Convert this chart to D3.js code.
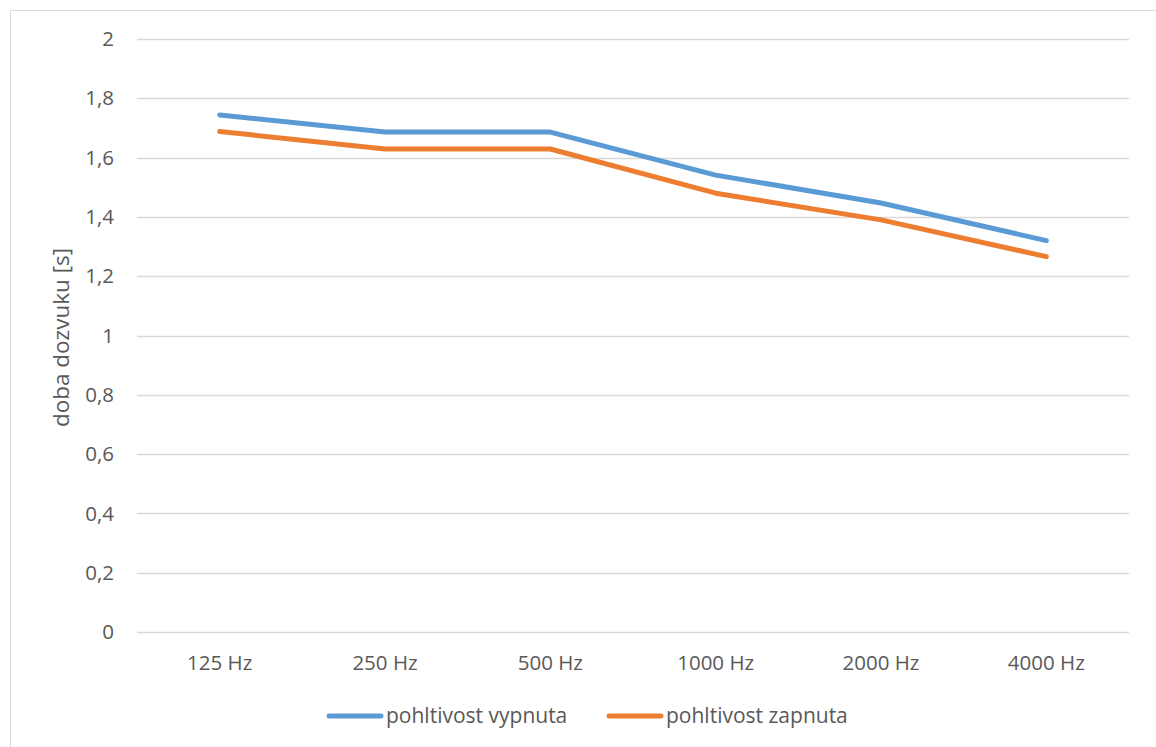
<!DOCTYPE html>
<html>
<head>
<meta charset="utf-8">
<script src="https://cdn.jsdelivr.net/npm/d3@7"></script>
<style>
  html, body { margin: 0; padding: 0; background: #fff; }
  svg { display: block; }
  text { font-family: "Open Sans", "Noto Sans", sans-serif; fill: #595959; }
</style>
</head>
<body>
<svg id="chart" width="1156" height="747"></svg>
<script>
// Reverberation time per octave band, absorption off / on
const categories = ["125 Hz", "250 Hz", "500 Hz", "1000 Hz", "2000 Hz", "4000 Hz"];
const valuesOff = [1.744, 1.686, 1.686, 1.541, 1.447, 1.320];
const valuesOn  = [1.688, 1.629, 1.629, 1.480, 1.390, 1.266];
const seriesNames = ["pohltivost vypnuta", "pohltivost zapnuta"];
const yTicks = [0, 0.2, 0.4, 0.6, 0.8, 1, 1.2, 1.4, 1.6, 1.8, 2];
const yLabel = "doba dozvuku [s]";

const colors = ["#5B9BD5", "#ED7D31"];
const svg = d3.select("#chart");

// outer chart frame
svg.append("rect")
  .attr("x", 10.5).attr("y", 10.5)
  .attr("width", 1160).attr("height", 760)
  .attr("fill", "none").attr("stroke", "#d9d9d9").attr("stroke-width", 1);

const plot = { left: 137, right: 1129, top: 39, bottom: 632 };

const x = d3.scaleBand().domain(categories).range([plot.left, plot.right]).padding(0);
const y = d3.scaleLinear().domain([0, 2]).range([plot.bottom, plot.top]);

// horizontal gridlines
svg.append("g").selectAll("line").data(yTicks).join("line")
  .attr("x1", plot.left).attr("x2", plot.right)
  .attr("y1", d => Math.round(y(d)) + 0.5).attr("y2", d => Math.round(y(d)) + 0.5)
  .attr("stroke", "#d9d9d9").attr("stroke-width", 1.5);

// y axis tick labels
const fmt = d => String(+d.toFixed(1)).replace(".", ",");
svg.append("g").selectAll("text").data(yTicks).join("text")
  .attr("x", 114).attr("y", d => y(d))
  .attr("dy", "0.35em").attr("text-anchor", "end")
  .style("font-size", "20.5px")
  .text(fmt);

// x axis category labels
svg.append("g").selectAll("text").data(categories).join("text")
  .attr("x", d => x(d) + x.bandwidth() / 2).attr("y", 663)
  .attr("dy", "0.35em").attr("text-anchor", "middle")
  .style("font-size", "20.5px")
  .text(d => d);

// y axis title
svg.append("text")
  .attr("transform", "translate(61," + ((plot.top + plot.bottom) / 2 + 2) + ") rotate(-90)")
  .attr("dy", "0.35em").attr("text-anchor", "middle")
  .style("font-size", "22.5px")
  .text(yLabel);

// series lines
const line = d3.line()
  .x((d, i) => x(categories[i]) + x.bandwidth() / 2)
  .y(d => y(d));

[valuesOff, valuesOn].forEach((vals, i) => {
  svg.append("path")
    .datum(vals)
    .attr("d", line)
    .attr("fill", "none")
    .attr("stroke", colors[i])
    .attr("stroke-width", 5)
    .attr("stroke-linecap", "round")
    .attr("stroke-linejoin", "round");
});

// legend
const legendItems = [
  { name: seriesNames[0], color: colors[0], x: 329 },
  { name: seriesNames[1], color: colors[1], x: 609 }
];
const lg = svg.append("g").selectAll("g").data(legendItems).join("g")
  .attr("transform", d => "translate(" + d.x + ",716)");
lg.append("line")
  .attr("x1", 0).attr("x2", 52).attr("y1", 0).attr("y2", 0)
  .attr("stroke", d => d.color).attr("stroke-width", 5).attr("stroke-linecap", "round");
lg.append("text")
  .attr("x", 57).attr("y", 0).attr("dy", "0.35em")
  .style("font-size", "21px")
  .text(d => d.name);
</script>
</body>
</html>
